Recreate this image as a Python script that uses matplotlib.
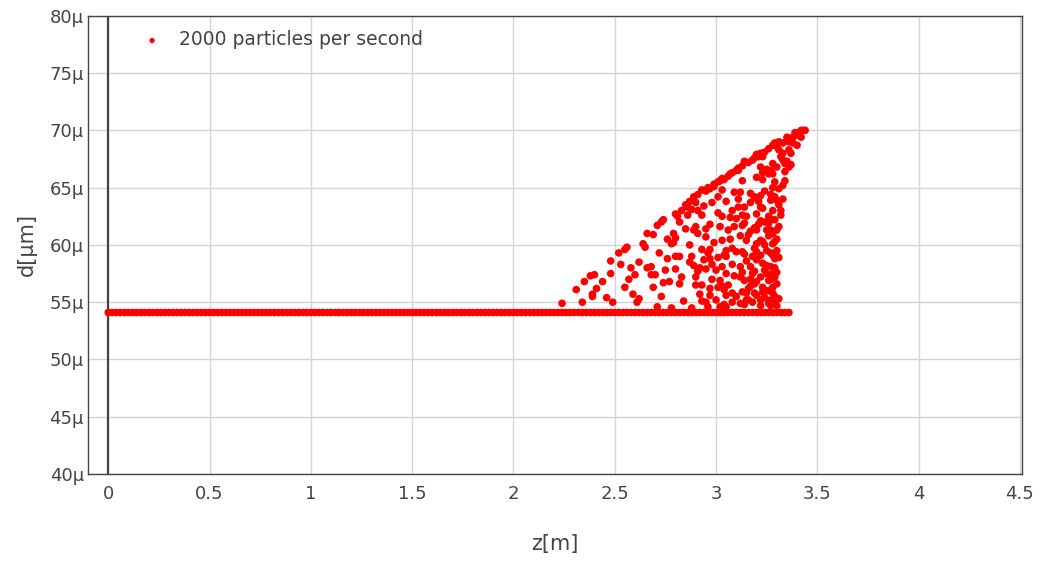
import matplotlib
matplotlib.use("Agg")
import matplotlib.pyplot as plt

# Particle diameter d [um] against axial position z [m]

# Particles that have not grown yet sit on the initial diameter
base_level = 54.1
base_z = [
    0.00, 0.02, 0.04, 0.06, 0.08, 0.10, 0.12, 0.14, 0.16, 0.18, 0.20, 0.22,
    0.24, 0.26, 0.28, 0.30, 0.32, 0.34, 0.36, 0.38, 0.40, 0.42, 0.44, 0.46,
    0.48, 0.50, 0.52, 0.54, 0.56, 0.58, 0.60, 0.62, 0.64, 0.66, 0.68, 0.70,
    0.72, 0.74, 0.76, 0.78, 0.80, 0.82, 0.84, 0.86, 0.88, 0.90, 0.92, 0.94,
    0.96, 0.98, 1.00, 1.02, 1.04, 1.06, 1.08, 1.10, 1.12, 1.14, 1.16, 1.18,
    1.20, 1.22, 1.24, 1.26, 1.28, 1.30, 1.32, 1.34, 1.36, 1.38, 1.40, 1.42,
    1.44, 1.46, 1.48, 1.50, 1.52, 1.54, 1.56, 1.58, 1.60, 1.62, 1.64, 1.66,
    1.68, 1.70, 1.72, 1.74, 1.76, 1.78, 1.80, 1.82, 1.84, 1.86, 1.88, 1.90,
    1.92, 1.94, 1.96, 1.98, 2.00, 2.02, 2.04, 2.06, 2.08, 2.10, 2.12, 2.14,
    2.16, 2.18, 2.20, 2.22, 2.24, 2.26, 2.28, 2.30, 2.32, 2.34, 2.36, 2.38,
    2.40, 2.42, 2.44, 2.46, 2.48, 2.50, 2.52, 2.54, 2.56, 2.58, 2.60, 2.62,
    2.64, 2.66, 2.68, 2.70, 2.72, 2.74, 2.76, 2.78, 2.80, 2.82, 2.84, 2.86,
    2.88, 2.90, 2.92, 2.94, 2.96, 2.98, 3.00, 3.02, 3.04, 3.06, 3.08, 3.10,
    3.12, 3.14, 3.16, 3.18, 3.20, 3.22, 3.24, 3.26, 3.28, 3.30, 3.32, 3.34,
    3.36,
]

# Growing particles
cloud_z = [
    2.24, 2.31, 2.34, 2.35, 2.38, 2.40, 2.39, 2.39, 2.44, 2.48, 2.48, 2.49,
    2.52, 2.53, 2.55, 2.55, 2.56, 2.60, 2.59, 2.61, 2.62, 2.64, 2.66, 2.69,
    2.66, 2.68, 2.68, 2.70, 2.71, 2.73, 2.74, 2.73, 2.71, 2.74, 2.77, 2.76,
    2.78, 2.79, 2.80, 2.80, 2.82, 2.80, 2.81, 2.80, 2.82, 2.82, 2.84, 2.86,
    2.86, 2.88, 2.90, 2.91, 2.89, 2.90, 2.91, 2.88, 2.89, 2.90, 2.91, 2.90,
    2.93, 2.92, 2.93, 2.95, 2.93, 2.94, 2.95, 2.95, 2.93, 2.94, 2.96, 2.97,
    2.97, 2.98, 2.98, 2.97, 3.00, 2.95, 2.97, 2.99, 2.98, 3.01, 3.02, 3.04,
    3.03, 3.03, 3.02, 3.04, 3.05, 3.03, 3.05, 3.02, 3.03, 3.04, 3.05, 3.08,
    3.02, 3.05, 3.07, 3.08, 3.08, 3.09, 3.10, 3.05, 3.07, 3.10, 3.11, 3.13,
    3.12, 3.14, 3.14, 3.13, 3.15, 3.13, 3.14, 3.12, 3.12, 3.14, 3.13, 3.15,
    3.17, 3.16, 3.14, 3.17, 3.19, 3.19, 3.20, 3.22, 3.23, 3.22, 3.23, 3.25,
    3.26, 3.23, 3.20, 3.19, 3.22, 3.22, 3.23, 3.27, 3.26, 3.27, 3.25, 3.27,
    3.30, 3.20, 3.22, 3.23, 3.25, 3.27, 3.28, 3.30, 3.22, 3.20, 3.23, 3.27,
    3.25, 3.22, 3.28, 3.29, 3.26, 3.23, 3.28, 3.29, 3.27, 3.22, 3.20, 3.25,
    3.19, 3.20, 3.19, 3.17, 3.18, 3.19, 3.28, 3.30, 3.31, 3.33, 3.32, 3.33,
    3.34, 3.35, 3.37, 3.36, 3.34, 3.28, 3.27, 3.28, 3.29, 3.34, 3.29, 3.30,
    3.33, 3.31, 3.32, 3.29, 3.31, 3.33, 3.35, 3.37, 3.38, 3.37, 3.36, 3.40,
    3.41, 3.42, 3.44, 3.42, 3.40, 3.30, 3.28, 3.30, 3.29, 3.28, 3.28, 3.30,
    3.27,
    2.83, 2.85, 2.87, 2.89, 2.91, 2.93, 2.96, 2.99, 3.01, 3.03, 3.06, 3.08,
    3.11, 3.13, 3.16, 3.18, 3.21, 3.24, 3.26, 3.29, 3.31, 3.35, 3.39, 3.43,
    3.38, 3.36,
    3.15, 3.17, 3.18, 3.21, 3.24, 3.26, 3.28, 3.12, 3.10, 3.08, 3.06, 3.10,
    3.14, 3.18, 3.22, 3.26, 3.31, 3.30, 3.29, 3.24, 3.20, 3.16, 3.13, 3.09,
    3.00, 2.99, 3.01, 3.05, 3.11, 3.24, 3.28, 3.30, 3.31, 3.32, 3.33, 2.97,
    2.87, 2.83, 2.76, 2.72, 2.62, 2.58, 3.20, 3.17, 3.27, 3.23, 3.12, 3.04,
    2.96, 2.88, 2.78,
    2.95, 2.97, 3.01, 3.03, 3.06, 3.07, 3.09, 3.11, 3.13, 3.15, 3.16, 3.17,
    3.19, 3.20, 3.21, 3.22, 3.24, 3.25, 3.26, 3.27, 3.28, 3.29, 3.30, 3.31,
    3.24, 3.26, 3.19, 3.15, 3.08, 3.01, 2.92, 2.87, 2.85, 2.79, 2.75, 2.69,
    2.65, 2.57, 2.46, 2.41,
]
cloud_d = [
    54.9, 56.1, 55.0, 56.8, 57.3, 57.4, 55.7, 55.5, 56.8, 57.5, 58.6, 55.0,
    59.3, 58.3, 56.3, 59.6, 59.8, 57.4, 55.7, 55.0, 55.3, 60.1, 61.0, 60.9,
    58.0, 58.1, 57.4, 57.4, 61.7, 62.0, 62.2, 55.5, 54.6, 56.7, 56.8, 60.5,
    60.1, 60.2, 60.6, 59.0, 59.0, 57.9, 62.5, 62.7, 62.0, 56.6, 55.1, 63.3,
    62.6, 63.1, 63.7, 63.0, 61.3, 61.6, 61.0, 59.0, 58.2, 57.2, 57.7, 56.5,
    56.5, 55.7, 55.1, 55.0, 62.6, 63.4, 61.4, 60.7, 59.6, 58.7, 59.3, 59.6,
    58.8, 58.3, 57.0, 55.6, 55.2, 64.7, 64.9, 65.1, 63.7, 64.2, 65.6, 65.7,
    64.8, 62.5, 61.6, 59.1, 59.0, 58.1, 57.5, 56.9, 56.4, 56.1, 55.6, 55.0,
    54.6, 54.6, 60.5, 63.0, 59.7, 61.6, 59.4, 59.5, 66.2, 66.5, 66.7, 65.6,
    64.6, 63.3, 61.9, 61.7, 60.4, 59.4, 59.2, 58.1, 57.2, 56.9, 55.9, 55.8,
    56.4, 55.2, 67.3, 64.5, 64.1, 67.6, 67.9, 68.0, 67.7, 66.8, 66.3, 66.6,
    66.2, 65.7, 65.9, 64.2, 64.3, 63.3, 63.2, 63.9, 62.5, 62.2, 61.3, 61.3,
    61.3, 61.3, 60.4, 60.3, 59.5, 59.3, 59.1, 59.0, 59.1, 58.7, 58.4, 58.1,
    57.5, 57.2, 57.5, 57.2, 56.9, 56.3, 56.3, 55.5, 55.2, 55.2, 55.6, 56.0,
    59.7, 60.1, 57.7, 58.1, 57.5, 56.6, 68.7, 68.6, 68.3, 68.0, 67.7, 67.4,
    67.1, 67.3, 67.0, 66.8, 66.4, 67.1, 66.5, 66.2, 65.5, 65.6, 64.2, 63.9,
    64.0, 63.5, 63.0, 62.2, 61.6, 68.9, 69.1, 69.3, 68.9, 68.0, 68.3, 69.6,
    69.8, 70.0, 70.0, 69.4, 68.7, 60.5, 60.1, 59.5, 58.8, 55.8, 55.0, 54.7,
    54.7,
    63.0, 63.5, 63.8, 64.2, 64.4, 64.8, 65.0, 65.3, 65.5, 65.8, 66.0, 66.3,
    66.5, 66.9, 67.2, 67.4, 67.7, 68.1, 68.4, 68.9, 69.0, 69.4, 69.8, 70.0,
    69.4, 69.0,
    62.5, 61.2, 59.0, 61.8, 62.0, 60.8, 61.0, 60.8, 62.3, 58.3, 56.5, 55.5,
    54.8, 55.0, 54.7, 54.9, 55.3, 56.6, 58.0, 57.8, 56.8, 56.2, 57.6, 57.3,
    57.8, 60.2, 62.8, 63.8, 64.0, 64.7, 65.0, 66.8, 64.9, 62.6, 65.2, 61.8,
    60.0, 57.2, 58.8, 59.3, 58.5, 58.0, 62.7, 63.7, 57.0, 55.9, 54.9, 54.8,
    54.6, 54.5, 54.5,
    57.9, 56.2, 58.9, 60.4, 61.3, 62.4, 64.6, 63.3, 62.6, 58.6, 60.9, 57.0,
    61.5, 59.4, 63.8, 62.1, 60.0, 58.2, 61.9, 64.4, 63.0, 60.3, 57.6, 58.9,
    55.4, 56.0, 55.8, 55.2, 55.8, 56.3, 58.0, 58.5, 61.4, 61.0, 57.8, 56.3,
    59.8, 57.0, 55.4, 56.2,
]

series_label = "2000 particles per second"
x_ticks = [0, 0.5, 1, 1.5, 2, 2.5, 3, 3.5, 4, 4.5]
y_ticks = [40, 45, 50, 55, 60, 65, 70, 75, 80]

z_all = base_z + cloud_z
d_all = [base_level] * len(base_z) + cloud_d

text_color = "#444444"
plt.rcParams["font.family"] = ["DejaVu Sans"]

fig = plt.figure(figsize=(10.46, 5.63), dpi=100)
ax = fig.add_axes([0.0841, 0.158, 0.8929, 0.814])

ax.scatter(z_all, d_all, s=30, color="#ff0000", edgecolors="none",
           zorder=3, label=series_label)
ax.axvline(0, color="#444444", lw=1.6, zorder=2)

ax.set_xlim(-0.1, 4.51)
ax.set_ylim(40, 80)
ax.set_xticks(x_ticks)
ax.set_xticklabels([f"{v:g}" for v in x_ticks])
ax.set_yticks(y_ticks)
ax.set_yticklabels([f"{v:g}\u03bc" for v in y_ticks])

ax.grid(True, color="#d4d4d4", lw=1, zorder=0)
ax.set_axisbelow(True)
for sp in ax.spines.values():
    sp.set_color("#444444")
    sp.set_linewidth(1)

ax.tick_params(axis="both", length=0, labelsize=13, colors=text_color)
ax.tick_params(axis="x", pad=8)
ax.tick_params(axis="y", pad=3)

ax.set_xlabel("z[m]", fontsize=15, color=text_color, labelpad=22)
ax.set_ylabel("d[\u03bcm]", fontsize=15, color=text_color, labelpad=9)

ax.legend(loc="upper left", bbox_to_anchor=(0.0586, 0.968), frameon=False,
          fontsize=13.5, handlelength=1.0, handletextpad=0.95,
          borderpad=0, borderaxespad=0, markerscale=0.7,
          labelcolor=text_color)

fig.savefig("out.png", dpi=100)
